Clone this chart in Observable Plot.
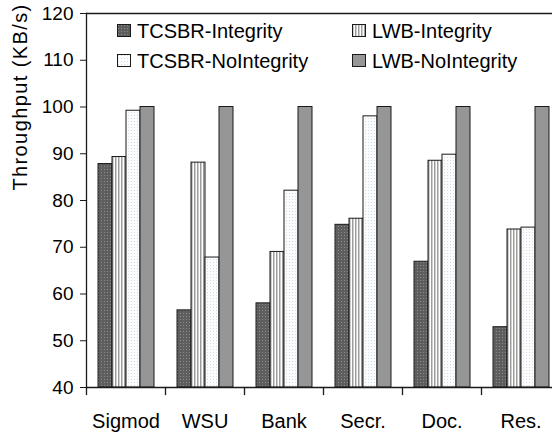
<!DOCTYPE html>
<html><head><meta charset="utf-8">
<script src="https://cdn.jsdelivr.net/npm/d3@7"></script>
<script src="https://cdn.jsdelivr.net/npm/@observablehq/plot@0.6"></script>
<style>
html,body{margin:0;padding:0;background:#fff;overflow:hidden;}
#wrap{position:relative;width:552px;height:434px;overflow:hidden;font-family:Arial,"Liberation Sans",sans-serif;color:#000;}
#wrap svg.plot{max-width:none !important;}
.lg{position:absolute;font-size:20px;line-height:20px;white-space:nowrap;}
.sw{position:absolute;}
#ylab{position:absolute;left:20px;top:97px;font-size:20px;white-space:nowrap;transform:translate(-50%,-50%) rotate(-90deg);letter-spacing:1.4px;}
</style></head><body>
<svg width="0" height="0" style="position:absolute">
  <defs>
    <pattern id="pDarkDots" width="3" height="3" patternUnits="userSpaceOnUse">
      <rect width="3" height="3" fill="#5e5e5e"/>
      <rect x="1" y="1" width="1" height="1" fill="#8c8c8c"/>
    </pattern>
    <pattern id="pStripes" width="3" height="3" patternUnits="userSpaceOnUse">
      <rect width="3" height="3" fill="#ffffff"/>
      <rect x="0" width="1" height="3" fill="#9c9c9c"/>
      <rect x="1" width="1" height="3" fill="#cfcfcf"/>
    </pattern>
    <pattern id="pLightDots" width="3" height="3" patternUnits="userSpaceOnUse">
      <rect width="3" height="3" fill="#fbfcfd"/>
      <rect x="1" y="1" width="1" height="1" fill="#d5dbe0"/>
    </pattern>
  </defs>
</svg>
<div id="wrap"></div>
<script>
const categories = ["Sigmod", "WSU", "Bank", "Secr.", "Doc.", "Res."];
const series = ["TCSBR-Integrity", "LWB-Integrity", "TCSBR-NoIntegrity", "LWB-NoIntegrity"];
const tcsbrIntegrity   = [87.8, 56.5, 58.0, 74.8, 66.9, 52.9];
const lwbIntegrity     = [89.3, 88.1, 69.0, 76.1, 88.5, 73.8];
const tcsbrNoIntegrity = [99.2, 67.8, 82.1, 98.0, 89.8, 74.2];
const lwbNoIntegrity   = [100, 100, 100, 100, 100, 100];
const yTicks = [40, 50, 60, 70, 80, 90, 100, 110, 120];
const yLabel = "Throughput (KB/s)";
const fills = ["url(#pDarkDots)", "url(#pStripes)", "url(#pLightDots)", "#969696"];

const values = [tcsbrIntegrity, lwbIntegrity, tcsbrNoIntegrity, lwbNoIntegrity];
const data = [];
categories.forEach((c, i) => series.forEach((s, j) => data.push({cat: c, series: s, value: values[j][i]})));
const yMin = yTicks[0], yMax = yTicks[yTicks.length - 1];

const plotH = 434, mTop = 13, mBottom = 47;
const chart = Plot.plot({
  width: 561,
  height: plotH,
  marginLeft: 85,
  marginRight: 0,
  marginTop: mTop,
  marginBottom: mBottom,
  style: {fontFamily: "Arial, 'Liberation Sans', sans-serif", maxWidth: "none", background: "#fff", color: "#000"},
  fx: {domain: categories, paddingInner: 0, paddingOuter: 0, axis: null},
  x: {domain: series, paddingInner: 0, paddingOuter: 0.8, axis: null},
  y: {domain: [yMin, yMax], axis: null},
  color: {domain: series, range: fills},
  marks: [
    Plot.barY(data, {fx: "cat", x: "series", y1: () => yMin, y2: "value", fill: "series", stroke: "#1a1a1a", strokeWidth: 1}),
    Plot.ruleY([yMin], {stroke: "#1a1a1a", strokeWidth: 1.3}),
    Plot.ruleY([yMax], {stroke: "#1a1a1a", strokeWidth: 1.3}),
    Plot.frame({anchor: "left", insetTop: plotH - mTop - mBottom, insetBottom: -7, stroke: "#1a1a1a", strokeWidth: 1.3}),
    Plot.frame({anchor: "left", facetAnchor: "left", stroke: "#1a1a1a", strokeWidth: 1.3}),
    Plot.axisY({ticks: yTicks, tickSize: 6, tickPadding: 7, fontSize: 19, label: null, tickFormat: d => String(d), stroke: "#1a1a1a"}),
    Plot.axisFx({anchor: "bottom", tickSize: 0, tickPadding: 26, fontSize: 20, label: null})
  ]
});
chart.classList.add("plot");
const wrap = document.getElementById("wrap");
wrap.appendChild(chart);

// y label
const yl = document.createElement("div");
yl.id = "ylab"; yl.textContent = yLabel; wrap.appendChild(yl);

// legend
const legendPos = [[117, 21], [352, 21], [117, 51], [352, 51]];
series.forEach((s, i) => {
  const [lx, ly] = legendPos[i];
  const sw = document.createElementNS("http://www.w3.org/2000/svg", "svg");
  sw.setAttribute("class", "sw"); sw.setAttribute("width", 14); sw.setAttribute("height", 13);
  sw.style.left = lx + "px"; sw.style.top = (ly + 3) + "px";
  const r = document.createElementNS("http://www.w3.org/2000/svg", "rect");
  r.setAttribute("x", 0.5); r.setAttribute("y", 0.5); r.setAttribute("width", 13); r.setAttribute("height", 12);
  r.setAttribute("fill", fills[i]); r.setAttribute("stroke", "#1a1a1a");
  sw.appendChild(r); wrap.appendChild(sw);
  const t = document.createElement("div");
  t.className = "lg"; t.textContent = s; t.style.left = (lx + 20) + "px"; t.style.top = ly + "px";
  wrap.appendChild(t);
});
</script>
</body></html>
